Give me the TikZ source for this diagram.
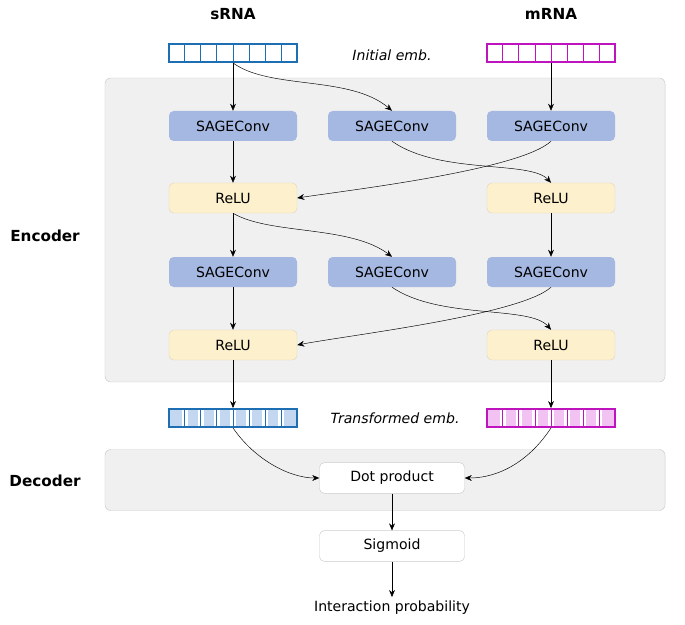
\documentclass[tikz,border=0pt]{standalone}
\usepackage{fontspec}
\setmainfont{DejaVu Sans}
\usetikzlibrary{arrows.meta}
\begin{document}
\begin{tikzpicture}[x=0.03cm,y=-0.03cm,
  every node/.style={font=\fontsize{12}{14}\selectfont},
  box/.style={rounded corners=4pt, minimum width=3.84cm, minimum height=0.9cm, inner sep=0pt},
  sage/.style={box, fill={rgb,255:red,164;green,184;blue,226}},
  relu/.style={box, fill={rgb,255:red,253;green,240;blue,204}, draw={rgb,255:red,225;green,215;blue,190}},
  wbox/.style={rounded corners=4pt, minimum width=4.35cm, minimum height=0.92cm, inner sep=0pt, fill=white, draw=black!20},
  panel/.style={rounded corners=5pt, fill=black!6, draw=black!20},
  emb/.style={minimum width=3.85cm, minimum height=0.55cm, inner sep=0pt, draw=#1, line width=1.3pt,
    path picture={\foreach \i in {1,...,7}{\draw[line width=2pt, white, double=#1, double distance=0.8pt] ([xshift=\i*3.85cm/8]path picture bounding box.south west) -- ([xshift=\i*3.85cm/8]path picture bounding box.north west);}}},
  arr/.style={-{Stealth[length=6pt,width=5pt]}, thin},
  lab/.style={font=\fontsize{13}{15}\selectfont\bfseries}]
\definecolor{sb}{RGB}{30,110,180}
\definecolor{mm}{RGB}{190,20,190}
\useasboundingbox (0,0) rectangle (685,624);
\node[panel, minimum width=16.8cm, minimum height=9.12cm] (enc) at (385,230) {};
\node[panel, minimum width=16.8cm, minimum height=1.83cm] (dec) at (385,480) {};
\node[lab] (ts) at (233,14) {sRNA};
\node[lab] (tm) at (551,14) {mRNA};
\node[lab] (le) at (45,236) {Encoder};
\node[lab] (ld) at (45,481) {Decoder};
\node[emb=sb, fill=white] (es) at (233,53) {};
\node[emb=mm, fill=white] (em) at (551,53) {};
\node[font=\fontsize{12}{14}\selectfont\itshape] (ie) at (392,55) {Initial emb.};
\node[sage] (s1) at (233,126) {SAGEConv};
\node[sage] (s2) at (392,126) {SAGEConv};
\node[sage] (s3) at (551,126) {SAGEConv};
\node[relu] (r1) at (233,198) {ReLU};
\node[relu] (r2) at (551,198) {ReLU};
\node[sage] (s4) at (233,272) {SAGEConv};
\node[sage] (s5) at (392,272) {SAGEConv};
\node[sage] (s6) at (551,272) {SAGEConv};
\node[relu] (r3) at (233,345) {ReLU};
\node[relu] (r4) at (551,345) {ReLU};
\node[emb=sb, fill={rgb,255:red,195;green,215;blue,240}] (fs) at (233,418) {};
\node[emb=mm, fill={rgb,255:red,242;green,195;blue,242}] (fm) at (551,418) {};
\node[font=\fontsize{12}{14}\selectfont\itshape] (te) at (395,418) {Transformed emb.};
\node[wbox] (dot) at (392,478) {Dot product};
\node[wbox] (sig) at (392,546) {Sigmoid};
\node (ip) at (392,608) {Interaction probability};
\draw[arr] (es) -- (s1);
\draw[arr] (es.south) .. controls (270,90) and (350,75) .. (s2.north);
\draw[arr] (em) -- (s3);
\draw[arr] (s1) -- (r1);
\draw[arr] (s2.south) .. controls (440,175) and (530,160) .. (r2.north);
\draw[arr] (s3.south) .. controls (520,170) and (350,190) .. (r1.east);
\draw[arr] (r1) -- (s4);
\draw[arr] (r1.south) .. controls (270,235) and (350,225) .. (s5.north);
\draw[arr] (r2) -- (s6);
\draw[arr] (s4) -- (r3);
\draw[arr] (s5.south) .. controls (440,320) and (530,305) .. (r4.north);
\draw[arr] (s6.south) .. controls (520,315) and (350,335) .. (r3.east);
\draw[arr] (r3) -- (fs);
\draw[arr] (r4) -- (fm);
\draw[arr] (fs.south) .. controls (255,460) and (290,478) .. (dot.west);
\draw[arr] (fm.south) .. controls (530,460) and (500,478) .. (dot.east);
\draw[arr] (dot) -- (sig);
\draw[arr] (sig) -- (ip);
\end{tikzpicture}
\end{document}
